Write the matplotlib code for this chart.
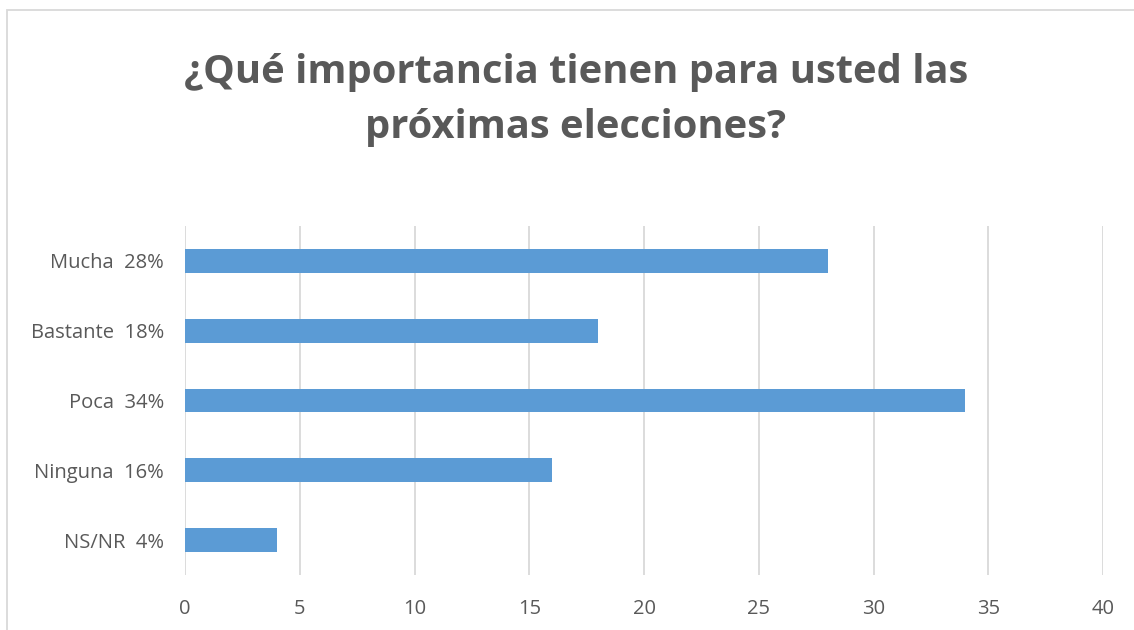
import matplotlib
matplotlib.use('Agg')
from matplotlib import pyplot as plt
from matplotlib.patches import Rectangle

categories = ['Mucha  28%', 'Bastante  18%', 'Poca  34%', 'Ninguna  16%', 'NS/NR  4%']
values = [28, 18, 34, 16, 4]
xticks = [0, 5, 10, 15, 20, 25, 30, 35, 40]

TEXT = '#595959'
BAR = '#5B9BD5'
GRID = '#D9D9D9'

plt.rcParams['font.family'] = ['Open Sans', 'DejaVu Sans']

W, H = 1134, 630
fig = plt.figure(figsize=(W / 100, H / 100), dpi=100)

# chart border (right/bottom run off the picture)
fig.add_artist(Rectangle((7 / W, -0.1), 1.2, 1 - 10 / H + 0.1, transform=fig.transFigure,
                         fill=False, edgecolor=GRID, linewidth=1.3))

ax = fig.add_axes([185 / W, 1 - 575 / H, (1103 - 185) / W, (575 - 226) / H])

ypos = list(range(len(categories)))
ax.barh(ypos, values, height=0.34, color=BAR, zorder=3)
ax.set_ylim(len(categories) - 0.5, -0.5)
ax.set_xlim(0, 40)
ax.set_xticks(xticks)
ax.set_yticks(ypos)
ax.set_yticklabels(categories)

ax.grid(axis='x', color=GRID, linewidth=1.3, zorder=0)
for s in ax.spines.values():
    s.set_visible(False)
ax.tick_params(axis='both', length=0, labelsize=14.5, colors=TEXT)
ax.tick_params(axis='x', pad=17)
ax.tick_params(axis='y', pad=15)

fig.text(576 / W, 1 - 100 / H, '¿Qué importancia tienen para usted las\npróximas elecciones?',
         ha='center', va='center', fontsize=28.7, fontweight='bold', color=TEXT, linespacing=1.55)

fig.savefig('out.png', dpi=100)
